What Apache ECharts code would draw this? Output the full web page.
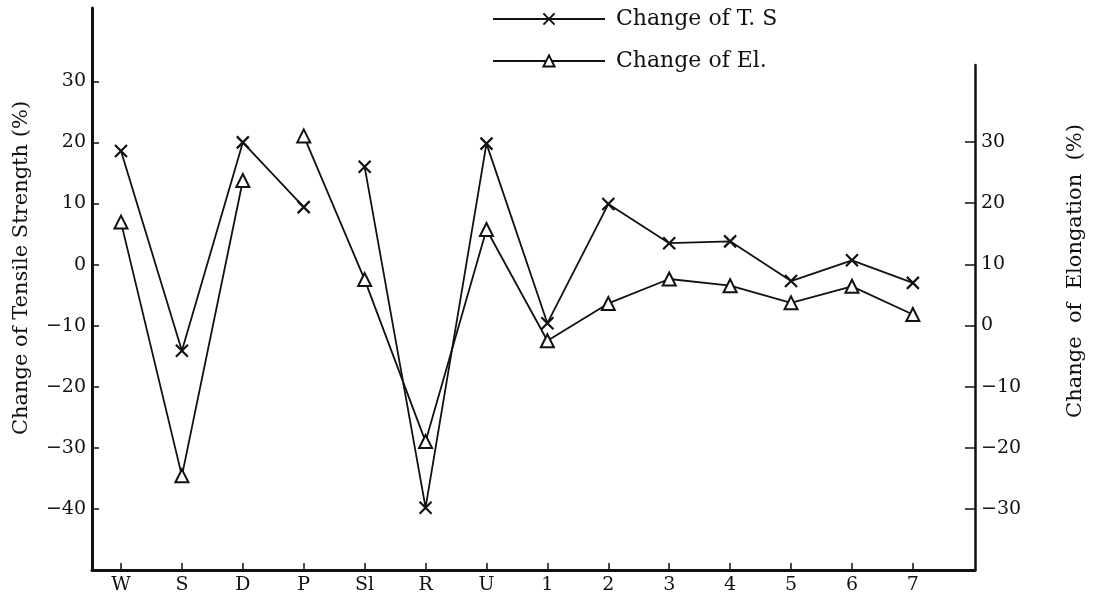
<!DOCTYPE html>
<html>
<head>
<meta charset="utf-8">
<script src="https://cdn.jsdelivr.net/npm/echarts@6/dist/echarts.min.js"></script>
<style>
  html, body { margin: 0; padding: 0; background: #fff; }
  #chart { width: 1093px; height: 599px; }
</style>
</head>
<body>
<div id="chart"></div>
<script>
// ---- data ----
const categories = ['W', 'S', 'D', 'P', 'Sl', 'R', 'U', '1', '2', '3', '4', '5', '6', '7'];
// Change of tensile strength (%), left axis
const tsValues = [18.6, -14.1, 20, 9.4, 16, -39.8, 19.8, -9.6, 9.9, 3.5, 3.8, -2.7, 0.7, -3.0];
// Change of elongation (%), right axis
const elValues = [16.9, -24.6, 23.7, 31, 7.5, -19, 15.7, -2.5, 3.6, 7.6, 6.5, 3.7, 6.4, 1.8];
// index of the last point of the first line segment (the line is broken after it)
const tsBreakAfter = 3;   // after 'P'
const elBreakAfter = 2;   // after 'D'
const leftTicks = [-40, -30, -20, -10, 0, 10, 20, 30];
const rightTicks = [-30, -20, -10, 0, 10, 20, 30];
const tsName = 'Change of T. S';
const elName = 'Change of El.';

// ---- chart ----
const ink = '#111';
const serif = '"DejaVu Serif", "Liberation Serif", serif';
const idx = categories.map((c, i) => i);
const pairs = vals => vals.map((v, i) => [i, v]);
const minusFmt = v => (v < 0 ? '\u2212' + Math.abs(v) : String(v));

const crossSymbol = 'path://M0,0L10,10M10,0L0,10';

function seg(name, data, xi, yi, symbol) {
  return {
    type: 'line',
    name: name,
    xAxisIndex: xi,
    yAxisIndex: yi,
    data: data,
    symbol: symbol,
    symbolSize: symbol === 'triangle' ? 13 : 12,
    showAllSymbol: true,
    lineStyle: { color: ink, width: 1.8 },
    itemStyle: symbol === 'triangle'
      ? { color: '#fff', borderColor: ink, borderWidth: 2 }
      : { color: 'rgba(0,0,0,0)', borderColor: ink, borderWidth: 2.2 },
    emphasis: { disabled: true },
    animation: false
  };
}

const tsData = pairs(tsValues);
const elData = pairs(elValues);

const chart = echarts.init(document.getElementById('chart'), null, { renderer: 'canvas' });

const gridLeft = 92, gridRight = 1093 - 975, gridBottom = 599 - 570;
const xMin = -0.476, xMax = 14.02;

chart.setOption({
  backgroundColor: '#fff',
  animation: false,
  textStyle: { fontFamily: serif, color: ink },
  grid: [
    { left: gridLeft, right: gridRight, top: 8, bottom: gridBottom, containLabel: false },
    { left: gridLeft, right: gridRight, top: 65, bottom: gridBottom, containLabel: false }
  ],
  legend: {
    orient: 'vertical',
    left: 492,
    top: 8,
    padding: 0,
    itemGap: 20,
    itemWidth: 112,
    itemHeight: 14,
    textStyle: { fontFamily: serif, fontSize: 22, color: ink, padding: [0, 0, 0, 6] },
    data: [tsName, elName]
  },
  xAxis: [
    {
      gridIndex: 0, type: 'value', min: xMin, max: xMax,
      axisLine: { show: true, onZero: false, lineStyle: { color: ink, width: 3 } },
      axisTick: { show: true, inside: true, length: 7, customValues: idx, lineStyle: { color: ink, width: 1.5 } },
      axisLabel: { customValues: idx, formatter: v => categories[v], fontFamily: serif, fontSize: 19, color: ink, margin: 6 },
      splitLine: { show: false }
    },
    {
      gridIndex: 1, type: 'value', min: xMin, max: xMax, show: false,
      axisLine: { onZero: false },
      splitLine: { show: false }
    }
  ],
  yAxis: [
    {
      gridIndex: 0, type: 'value', position: 'left', min: -50, max: 42,
      axisLine: { show: true, onZero: false, lineStyle: { color: ink, width: 3 } },
      axisTick: { show: true, inside: true, length: 7, customValues: leftTicks, lineStyle: { color: ink, width: 1.5 } },
      axisLabel: { customValues: leftTicks, formatter: minusFmt, fontFamily: serif, fontSize: 19, color: ink, margin: 6 },
      splitLine: { show: false }
    },
    {
      gridIndex: 1, type: 'value', position: 'right', min: -40, max: 42.6,
      axisLine: { show: true, onZero: false, lineStyle: { color: ink, width: 2.5 } },
      axisTick: { show: true, inside: true, length: 10, customValues: rightTicks, lineStyle: { color: ink, width: 1.5 } },
      axisLabel: { customValues: rightTicks, formatter: minusFmt, fontFamily: serif, fontSize: 19, color: ink, margin: 6 },
      splitLine: { show: false }
    }
  ],
  graphic: [
    {
      type: 'text', x: 22, y: 268, rotation: Math.PI / 2,
      style: { text: 'Change of Tensile Strength (%)', font: '21px ' + serif, fill: ink, align: 'center', verticalAlign: 'middle' }
    },
    {
      type: 'text', x: 1076, y: 271, rotation: Math.PI / 2,
      style: { text: 'Change  of  Elongation  (%)', font: '21px ' + serif, fill: ink, align: 'center', verticalAlign: 'middle' }
    }
  ],
  series: [
    seg(tsName, tsData.slice(0, tsBreakAfter + 1), 0, 0, crossSymbol),
    seg(tsName, tsData.slice(tsBreakAfter + 1), 0, 0, crossSymbol),
    seg(elName, elData.slice(0, elBreakAfter + 1), 1, 1, 'triangle'),
    seg(elName, elData.slice(elBreakAfter + 1), 1, 1, 'triangle')
  ]
});
</script>
</body>
</html>
